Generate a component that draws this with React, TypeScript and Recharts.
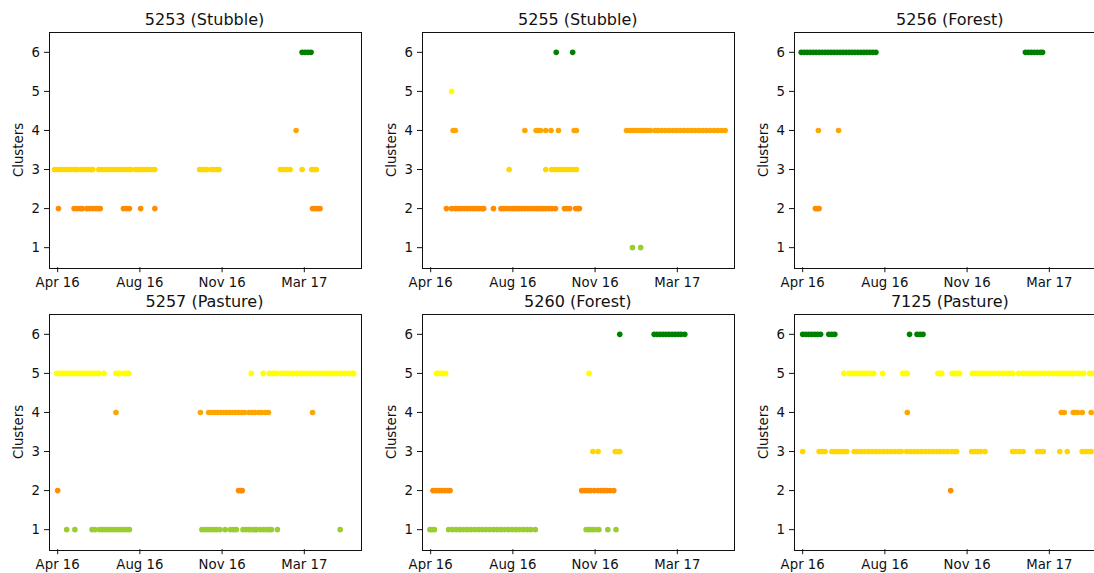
import React from 'react';
import { ScatterChart, Scatter, XAxis, YAxis } from 'recharts';

const CLUSTER_COLORS = ['#9ACD32', '#FF8C00', '#FFD700', '#FFA500', '#FFFF00', '#008000'];
const X_TICKS = [0, 110, 220, 330];
const X_LABELS = ['Apr 16', 'Aug 16', 'Nov 16', 'Mar 17'];
const Y_TICKS = [1, 2, 3, 4, 5, 6];

// day offsets from the "Apr 16" tick, one array per cluster
const s5253_c1: number[] = [];
const s5253_c2 = [1, 22, 26, 30, 33, 39, 43, 47, 51, 54, 57, 88, 92, 96, 111, 130, 341, 345, 348, 351];
const s5253_c3 = [-4, 0, 4, 8, 12, 16, 20, 24, 26, 31, 34, 38, 42, 45, 47, 55, 59, 63, 67, 71, 75, 79, 83, 87, 91, 95, 98, 104, 107, 111, 114, 118, 122, 126, 130, 190, 194, 198, 200, 206, 209, 213, 216, 298, 302, 306, 311, 327, 340, 343, 346];
const s5253_c4 = [319];
const s5253_c5: number[] = [];
const s5253_c6 = [327, 331, 335, 339];

const s5255_c1 = [270, 281];
const s5255_c2 = [21, 28, 33, 37, 41, 45, 49, 53, 57, 61, 65, 69, 71, 84, 94, 98, 102, 106, 110, 114, 118, 122, 126, 130, 134, 138, 142, 146, 150, 154, 158, 162, 167, 179, 182, 186, 194, 197, 199];
const s5255_c3 = [105, 154, 162, 166, 170, 174, 178, 182, 186, 190, 195];
const s5255_c4 = [30, 33, 126, 141, 144, 147, 154, 161, 171, 192, 195, 262, 266, 270, 274, 278, 282, 286, 290, 294, 300, 304, 309, 314, 319, 324, 329, 334, 339, 344, 349, 354, 359, 364, 369, 374, 379, 384, 389, 394];
const s5255_c5 = [28];
const s5255_c6 = [168, 190];

const s5256_c1: number[] = [];
const s5256_c2 = [17, 20, 22];
const s5256_c3: number[] = [];
const s5256_c4 = [21, 48];
const s5256_c5: number[] = [];
const s5256_c6 = [-2, 2, 6, 10, 14, 18, 22, 26, 30, 34, 38, 42, 46, 50, 54, 58, 62, 66, 70, 74, 78, 82, 86, 90, 94, 98, 298, 302, 306, 310, 314, 318, 321];

const s5257_c1 = [12, 23, 46, 50, 56, 60, 64, 68, 72, 76, 80, 84, 88, 92, 96, 193, 197, 201, 205, 209, 213, 217, 224, 231, 235, 239, 248, 252, 256, 260, 264, 266, 271, 275, 279, 283, 286, 294, 378];
const s5257_c2 = [0, 242, 245, 247];
const s5257_c3: number[] = [];
const s5257_c4 = [78, 191, 202, 206, 210, 214, 218, 222, 226, 230, 234, 238, 242, 246, 250, 256, 260, 264, 269, 273, 278, 282, 341];
const s5257_c5 = [-1, 3, 7, 11, 15, 19, 23, 27, 31, 35, 39, 43, 47, 51, 55, 62, 78, 81, 83, 89, 92, 95, 259, 275, 283, 287, 290, 293, 299, 304, 309, 314, 319, 324, 329, 334, 339, 344, 349, 354, 359, 364, 369, 374, 379, 384, 389, 394, 396];
const s5257_c6: number[] = [];

const s5260_c1 = [-1, 2, 5, 24, 29, 34, 39, 44, 49, 54, 59, 64, 69, 74, 79, 84, 89, 94, 99, 104, 109, 114, 119, 124, 129, 134, 140, 208, 212, 216, 220, 225, 237, 248];
const s5260_c2 = [3, 7, 11, 15, 19, 23, 26, 202, 206, 210, 214, 219, 224, 228, 232, 236, 240, 245];
const s5260_c3 = [217, 224, 247, 250, 253];
const s5260_c4: number[] = [];
const s5260_c5 = [8, 12, 16, 20, 212];
const s5260_c6 = [253, 299, 303, 307, 311, 315, 319, 323, 327, 331, 335, 340];

const s7125_c1: number[] = [];
const s7125_c2 = [198];
const s7125_c3 = [0, 22, 26, 30, 39, 43, 47, 51, 55, 59, 69, 73, 78, 83, 88, 93, 98, 103, 108, 113, 118, 123, 128, 132, 139, 144, 149, 154, 159, 164, 169, 174, 179, 184, 189, 194, 199, 203, 206, 226, 230, 234, 238, 244, 281, 285, 290, 295, 314, 318, 322, 344, 354, 374, 378, 382, 386];
const s7125_c4 = [140, 346, 350, 362, 365, 368, 374, 386];
const s7125_c5 = [55, 62, 66, 70, 74, 78, 82, 86, 90, 95, 107, 134, 137, 140, 181, 184, 186, 200, 204, 207, 210, 227, 232, 237, 242, 247, 252, 257, 262, 267, 272, 277, 281, 289, 294, 299, 304, 309, 314, 319, 324, 329, 334, 339, 344, 349, 354, 359, 362, 367, 371, 376, 384, 389];
const s7125_c6 = [0, 4, 8, 12, 16, 20, 24, 35, 39, 43, 143, 153, 157, 161];

const PANELS = [
  { title: '5253 (Stubble)', left: 49, top: 32.8, series: [s5253_c1, s5253_c2, s5253_c3, s5253_c4, s5253_c5, s5253_c6] },
  { title: '5255 (Stubble)', left: 422.3, top: 32.8, series: [s5255_c1, s5255_c2, s5255_c3, s5255_c4, s5255_c5, s5255_c6] },
  { title: '5256 (Forest)', left: 794.3, top: 32.8, series: [s5256_c1, s5256_c2, s5256_c3, s5256_c4, s5256_c5, s5256_c6] },
  { title: '5257 (Pasture)', left: 49, top: 314.7, series: [s5257_c1, s5257_c2, s5257_c3, s5257_c4, s5257_c5, s5257_c6] },
  { title: '5260 (Forest)', left: 422.3, top: 314.7, series: [s5260_c1, s5260_c2, s5260_c3, s5260_c4, s5260_c5, s5260_c6] },
  { title: '7125 (Pasture)', left: 794.3, top: 314.7, series: [s7125_c1, s7125_c2, s7125_c3, s7125_c4, s7125_c5, s7125_c6] },
];

const BOX_W = 311;
const BOX_H = 234.4;
const FONT = '"DejaVu Sans", sans-serif';
const tickStyle = { fontSize: 13.3, fill: '#111', fontFamily: FONT };

const Panel = ({ panel }: any) => {
  const chartLeft = panel.left - 49;
  const chartTop = panel.top - 32.8;
  return (
    <>
      <div
        style={{
          position: 'absolute',
          left: panel.left,
          top: panel.top - 21,
          width: BOX_W,
          textAlign: 'center',
          fontFamily: FONT,
          fontSize: 16,
          lineHeight: '16px',
          color: '#111',
        }}
      >
        {panel.title}
      </div>
      <div
        style={{
          position: 'absolute',
          left: panel.left - 31,
          top: panel.top + BOX_H / 2,
          transform: 'translate(-50%, -50%) rotate(-90deg)',
          fontFamily: FONT,
          fontSize: 13.3,
          color: '#111',
          whiteSpace: 'nowrap',
        }}
      >
        Clusters
      </div>
      <div style={{ position: 'absolute', left: chartLeft, top: chartTop }}>
        <ScatterChart width={372} height={32.8 + BOX_H + 30} margin={{ top: 32.8, right: 12, bottom: 0, left: 10 }}>
          <XAxis
            type="number"
            dataKey="x"
            domain={[-11.6, 404.5]}
            ticks={X_TICKS}
            tickFormatter={(v: number) => X_LABELS[X_TICKS.indexOf(v)]}
            allowDataOverflow
            axisLine={false}
            tickLine={{ stroke: '#111' }}
            tickSize={5}
            tickMargin={5}
            height={30}
            tick={tickStyle}
          />
          <YAxis
            type="number"
            dataKey="y"
            domain={[0.5, 6.5]}
            ticks={Y_TICKS}
            allowDataOverflow
            axisLine={false}
            tickLine={{ stroke: '#111' }}
            tickSize={5}
            tickMargin={4}
            width={39}
            tick={tickStyle}
          />
          {panel.series.map((xs: number[], i: number) => (
            <Scatter
              key={i}
              data={xs.map((x) => ({ x, y: i + 1 }))}
              isAnimationActive={false}
              shape={(p: any) => <circle cx={p.cx} cy={p.cy} r={2.8} fill={CLUSTER_COLORS[i]} />}
            />
          ))}
        </ScatterChart>
      </div>
      <div
        style={{
          position: 'absolute',
          left: panel.left - 0.5,
          top: panel.top - 0.5,
          width: BOX_W,
          height: BOX_H,
          border: '1px solid #111',
          pointerEvents: 'none',
        }}
      />
    </>
  );
};

export default function App() {
  return (
    <div
      style={{
        position: 'absolute',
        left: 0,
        top: 0,
        width: 1094,
        height: 573,
        overflow: 'hidden',
        background: '#fff',
      }}
    >
      {PANELS.map((p) => (
        <Panel key={p.title} panel={p} />
      ))}
    </div>
  );
}
